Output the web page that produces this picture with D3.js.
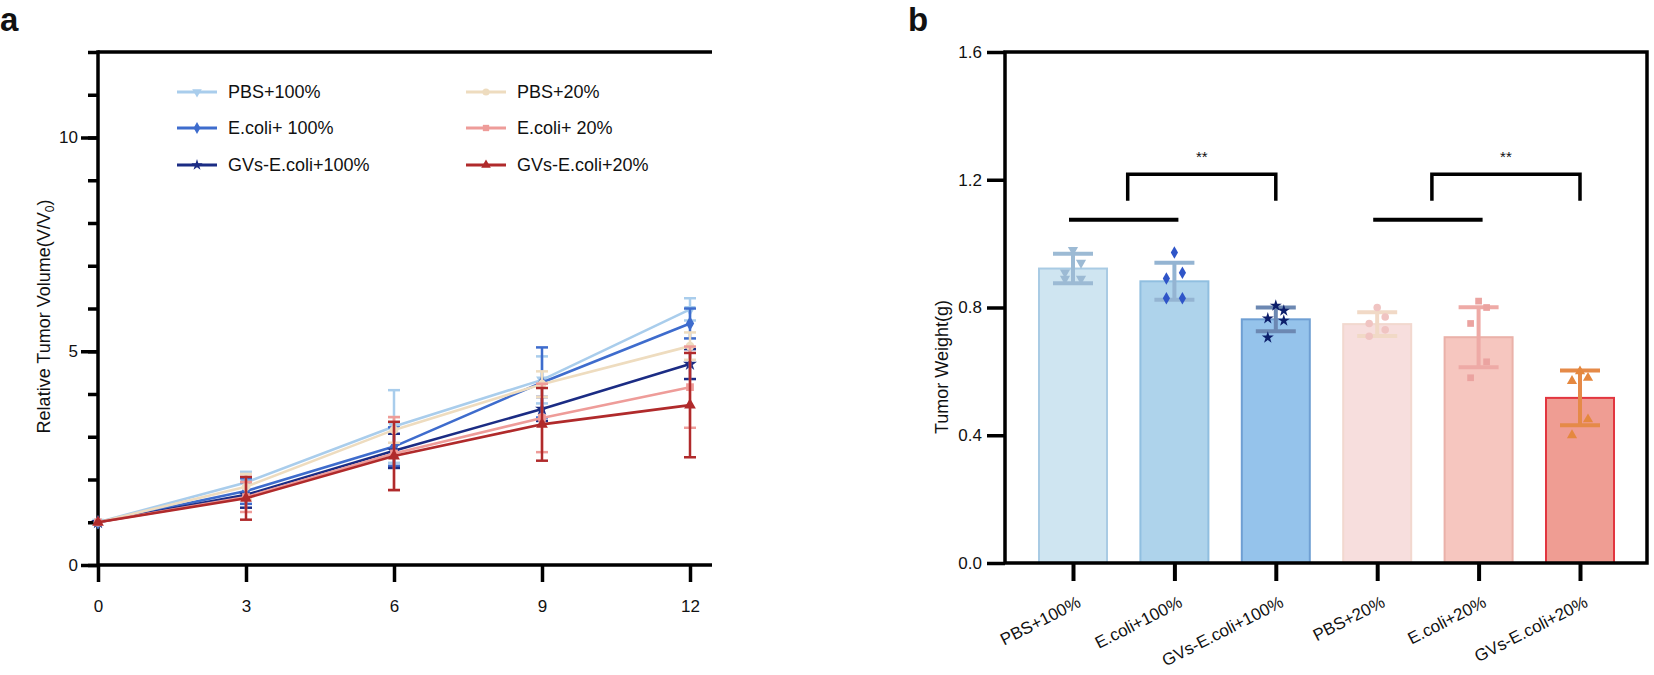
<!DOCTYPE html>
<html>
<head>
<meta charset="utf-8">
<script src="https://cdn.jsdelivr.net/npm/d3@7"></script>
<style>
  body { margin: 0; background: #fff; }
  text { font-family: "Liberation Sans", Arial, sans-serif; fill: #111; }
</style>
</head>
<body>
<div id="wrapper"></div>
<script>
// ---- panel a data ----
const days = [0, 3, 6, 9, 12]
const lineNames = ["PBS+100%", "E.coli+ 100%", "GVs-E.coli+100%", "PBS+20%", "E.coli+ 20%", "GVs-E.coli+20%"]
const pbs100 = [1, 1.93, 3.24, 4.33, 5.98]
const pbs100Sd = [0, 0.25, 0.85, 0.55, 0.26]
const ecoli100 = [1, 1.73, 2.77, 4.27, 5.65]
const ecoli100Sd = [0, 0.30, 0.45, 0.82, 0.35]
const gvs100 = [1, 1.64, 2.67, 3.65, 4.70]
const gvs100Sd = [0, 0.30, 0.40, 0.28, 0.35]
const pbs20 = [1, 1.83, 3.16, 4.23, 5.12]
const pbs20Sd = [0, 0.30, 0.30, 0.30, 0.32]
const ecoli20 = [1, 1.59, 2.61, 3.44, 4.16]
const ecoli20Sd = [0, 0.35, 0.85, 0.80, 0.95]
const gvs20 = [1, 1.56, 2.55, 3.29, 3.74]
const gvs20Sd = [0, 0.50, 0.80, 0.85, 1.22]
const yTicksA = [0, 5, 10]

// ---- panel b data ----
const groups = ["PBS+100%", "E.coli+100%", "GVs-E.coli+100%", "PBS+20%", "E.coli+20%", "GVs-E.coli+20%"]
const weightMeans = [0.922, 0.882, 0.763, 0.748, 0.707, 0.517]
const weightSds = [0.046, 0.058, 0.037, 0.037, 0.094, 0.086]
const weightPoints = [
  [0.98, 0.94, 0.91, 0.89, 0.89],
  [0.972, 0.909, 0.891, 0.829, 0.829],
  [0.806, 0.79, 0.766, 0.759, 0.706],
  [0.80, 0.77, 0.75, 0.73, 0.71],
  [0.82, 0.80, 0.75, 0.63, 0.58],
  [0.60, 0.58, 0.57, 0.45, 0.40],
]
const yTicksB = [0, 0.4, 0.8, 1.2, 1.6]
const sigPairs = [[0, 1, 2], [3, 4, 5]]

const svg = d3.select("#wrapper").append("svg")
  .attr("width", 1654).attr("height", 675)

const font = "Liberation Sans, Arial, sans-serif"

// ================= panel a =================
const dimA = { left: 98, right: 690, top: 52, bottom: 565, frameRight: 712 }
const xA = d3.scaleLinear().domain([0, 12]).range([dimA.left, dimA.right])
const yA = d3.scaleLinear().domain([0, 12]).range([dimA.bottom, dimA.top])

const lineColors = ["#a9cdec", "#3e6ccd", "#1b2c84", "#eedcbf", "#ee9c99", "#b02a2b"]
const lineSymbols = [d3.symbolTriangle, d3.symbolDiamond, d3.symbolStar, d3.symbolCircle, d3.symbolSquare, d3.symbolTriangle]
const lineFlip = [true, false, false, false, false, false]
const lineData = [pbs100, ecoli100, gvs100, pbs20, ecoli20, gvs20]
const lineSd = [pbs100Sd, ecoli100Sd, gvs100Sd, pbs20Sd, ecoli20Sd, gvs20Sd]

svg.append("text").attr("x", 0).attr("y", 31)
  .style("font-size", "33px").style("font-weight", "bold").text("a")

const gA = svg.append("g")

// minor ticks
gA.append("g").attr("transform", `translate(${dimA.left},0)`)
  .call(d3.axisLeft(yA).tickValues(d3.range(0, 13)).tickSize(10).tickFormat(""))
  .call(g => g.select(".domain").remove())
  .call(g => g.selectAll("line").attr("stroke", "#000").attr("stroke-width", 3.5))
// major ticks
gA.append("g").attr("transform", `translate(${dimA.left},0)`)
  .call(d3.axisLeft(yA).tickValues(yTicksA).tickSize(17).tickPadding(3))
  .call(g => g.select(".domain").remove())
  .call(g => g.selectAll("line").attr("stroke", "#000").attr("stroke-width", 3.5))
  .call(g => g.selectAll("text").style("font-size", "17px").attr("font-family", font).attr("fill", "#111"))
// x axis
gA.append("g").attr("transform", `translate(0,${dimA.bottom})`)
  .call(d3.axisBottom(xA).tickValues(days).tickSize(17).tickPadding(18))
  .call(g => g.select(".domain").remove())
  .call(g => g.selectAll("line").attr("stroke", "#000").attr("stroke-width", 3.5))
  .call(g => g.selectAll("text").style("font-size", "17px").attr("font-family", font).attr("fill", "#111"))

// frame lines
gA.append("line").attr("x1", dimA.left).attr("x2", dimA.left)
  .attr("y1", dimA.top - 1.75).attr("y2", dimA.bottom + 1.75)
  .attr("stroke", "#000").attr("stroke-width", 3.5)
gA.append("line").attr("x1", dimA.left).attr("x2", dimA.frameRight)
  .attr("y1", dimA.top).attr("y2", dimA.top)
  .attr("stroke", "#000").attr("stroke-width", 3.5)
gA.append("line").attr("x1", dimA.left).attr("x2", dimA.frameRight)
  .attr("y1", dimA.bottom).attr("y2", dimA.bottom)
  .attr("stroke", "#000").attr("stroke-width", 3.5)

// y label
const yLabA = gA.append("text")
  .attr("transform", `translate(50,${(dimA.top + dimA.bottom) / 2 + 8}) rotate(-90)`)
  .attr("text-anchor", "middle").style("font-size", "18px")
yLabA.append("tspan").text("Relative Tumor Volume(V/V")
yLabA.append("tspan").attr("dy", 4).style("font-size", "12px").text("0")
yLabA.append("tspan").attr("dy", -4).text(")")

// series
const lineGen = d3.line().x((d, i) => xA(days[i])).y(d => yA(d))
lineData.forEach((vals, s) => {
  const g = gA.append("g")
  const col = lineColors[s]
  // error bars
  vals.forEach((v, i) => {
    const sd = lineSd[s][i]
    if (!sd) return
    const x = xA(days[i])
    g.append("line").attr("x1", x).attr("x2", x)
      .attr("y1", yA(v - sd)).attr("y2", yA(v + sd))
      .attr("stroke", col).attr("stroke-width", 2.5)
    ;[v - sd, v + sd].forEach(e => {
      g.append("line").attr("x1", x - 6).attr("x2", x + 6)
        .attr("y1", yA(e)).attr("y2", yA(e))
        .attr("stroke", col).attr("stroke-width", 2.5)
    })
  })
  g.append("path").datum(vals).attr("d", lineGen)
    .attr("fill", "none").attr("stroke", col).attr("stroke-width", 2.6)
  g.selectAll("path.pt").data(vals).join("path").attr("class", "pt")
    .attr("d", d3.symbol(lineSymbols[s], 60))
    .attr("transform", (d, i) => `translate(${xA(days[i])},${yA(d)})${lineFlip[s] ? " rotate(180)" : ""}`)
    .attr("fill", col)
})

// legend
const legX = [177, 466]
const legY = [92, 128, 165]
lineNames.forEach((name, s) => {
  const col = Math.floor(s / 3), row = s % 3
  const lg = gA.append("g").attr("transform", `translate(${legX[col]},${legY[row]})`)
  lg.append("line").attr("x1", 0).attr("x2", 40).attr("stroke", lineColors[s]).attr("stroke-width", 3)
  lg.append("path").attr("d", d3.symbol(lineSymbols[s], 40))
    .attr("transform", `translate(20,0)${lineFlip[s] ? " rotate(180)" : ""}`)
    .attr("fill", lineColors[s])
  lg.append("text").attr("x", 51).attr("dy", "0.35em")
    .style("font-size", "18px").text(name)
})

// ================= panel b =================
const dimB = { left: 1005, right: 1647, top: 52, bottom: 563 }
const xB = d3.scalePoint().domain(groups).range([1073, 1580])
const yB = d3.scaleLinear().domain([0, 1.6]).range([dimB.bottom, dimB.top])
const barW = 68

const barFill = ["#cfe5f1", "#aed3eb", "#95c3eb", "#f7dedd", "#f6c6bf", "#ef9d93"]
const barStroke = ["#a9cbe4", "#90bfe0", "#6f9fd3", "#f2d8cf", "#eab1a9", "#e2363f"]
const errCol = ["#9cbad4", "#94b4d2", "#6c88b2", "#f1d9c6", "#eeaaa6", "#e58a48"]
const ptCol = ["#9cbad4", "#2f55c8", "#0d1f6b", "#f0c4c2", "#eba3a0", "#e5883f"]
const ptSymbols = [d3.symbolTriangle, d3.symbolDiamond, d3.symbolStar, d3.symbolCircle, d3.symbolSquare, d3.symbolTriangle]
const ptFlip = [true, false, false, false, false, false]
const jitter = [0, 8, -8, 8, -8]

svg.append("text").attr("x", 908).attr("y", 31)
  .style("font-size", "33px").style("font-weight", "bold").text("b")

const gB = svg.append("g")

// bars
gB.selectAll("rect.bar").data(weightMeans).join("rect").attr("class", "bar")
  .attr("x", (d, i) => xB(groups[i]) - barW / 2)
  .attr("y", d => yB(d))
  .attr("width", barW)
  .attr("height", d => yB(0) - yB(d))
  .attr("fill", (d, i) => barFill[i])
  .attr("stroke", (d, i) => barStroke[i])
  .attr("stroke-width", 2)

// error bars + points
weightMeans.forEach((m, i) => {
  const x = xB(groups[i]), sd = weightSds[i]
  gB.append("line").attr("x1", x).attr("x2", x)
    .attr("y1", yB(m - sd)).attr("y2", yB(m + sd))
    .attr("stroke", errCol[i]).attr("stroke-width", 4)
  ;[m - sd, m + sd].forEach(e => {
    gB.append("line").attr("x1", x - 20).attr("x2", x + 20)
      .attr("y1", yB(e)).attr("y2", yB(e))
      .attr("stroke", errCol[i]).attr("stroke-width", 4)
  })
  gB.selectAll(null).data(weightPoints[i]).join("path")
    .attr("d", d3.symbol(ptSymbols[i], 45))
    .attr("transform", (d, j) => `translate(${x + jitter[j]},${yB(d)})${ptFlip[i] ? " rotate(180)" : ""}`)
    .attr("fill", ptCol[i])
})

// axes
gB.append("g").attr("transform", `translate(${dimB.left},0)`)
  .call(d3.axisLeft(yB).tickValues(yTicksB).tickSize(18).tickPadding(5).tickFormat(d3.format(".1f")))
  .call(g => g.select(".domain").remove())
  .call(g => g.selectAll("line").attr("stroke", "#000").attr("stroke-width", 3.5))
  .call(g => g.selectAll("text").style("font-size", "17px").attr("font-family", font).attr("fill", "#111"))
gB.append("g").attr("transform", `translate(0,${dimB.bottom})`)
  .call(d3.axisBottom(xB).tickSize(18).tickFormat(""))
  .call(g => g.select(".domain").remove())
  .call(g => g.selectAll("line").attr("stroke", "#000").attr("stroke-width", 4))
gB.selectAll("text.xl").data(groups).join("text").attr("class", "xl")
  .attr("transform", d => `translate(${xB(d) + 9},${606}) rotate(-27)`)
  .attr("text-anchor", "end").style("font-size", "17px").text(d => d)

// frame
gB.append("path")
  .attr("d", `M${dimB.left},${dimB.bottom}V${dimB.top}H${dimB.right}V${dimB.bottom}H${dimB.left}`)
  .attr("fill", "none").attr("stroke", "#000").attr("stroke-width", 3.5).attr("stroke-linejoin", "miter")

// y label
gB.append("text")
  .attr("transform", `translate(948,367) rotate(-90)`)
  .attr("text-anchor", "middle").style("font-size", "18px").text("Tumor Weight(g)")

// significance
sigPairs.forEach(([a, b, c]) => {
  const xa = xB(groups[a]), xb = xB(groups[b]), xc = xB(groups[c])
  gB.append("line").attr("x1", xa - 4).attr("x2", xb + 4)
    .attr("y1", yB(1.075)).attr("y2", yB(1.075))
    .attr("stroke", "#000").attr("stroke-width", 4)
  const xm = (xa + xb) / 2 + 4
  gB.append("path")
    .attr("d", `M${xm},${yB(1.134)}V${yB(1.217)}H${xc}V${yB(1.134)}`)
    .attr("fill", "none").attr("stroke", "#000").attr("stroke-width", 3.5)
  gB.append("text").attr("x", (xm + xc) / 2).attr("y", yB(1.217) - 12)
    .attr("text-anchor", "middle").style("font-size", "15px").text("**")
})
</script>
</body>
</html>
